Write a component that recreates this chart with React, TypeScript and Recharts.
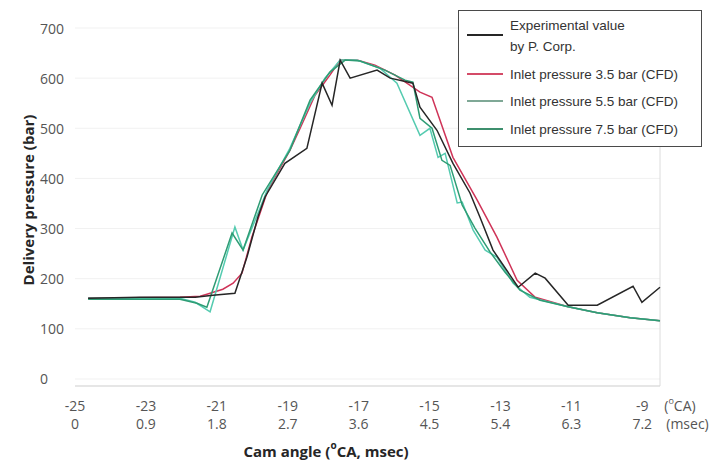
import { LineChart, Line, XAxis, YAxis, CartesianGrid, Legend, Label, ReferenceLine } from "recharts";

// cam angle ticks (°CA) and the matching time axis (msec)
const caTicks = [-25, -23, -21, -19, -17, -15, -13, -11, -9];
const msecLabels = ["0", "0.9", "1.8", "2.7", "3.6", "4.5", "5.4", "6.3", "7.2"];
const pressureTicks = [0, 100, 200, 300, 400, 500, 600, 700];

// experimental value by P. Corp.
const expAngle = [
  -24.63, -23.17, -21.61, -21.11, -20.49, -20.15, -19.84, -19.64, -19.08, -18.46, -18.03,
  -17.75, -17.52, -17.24, -16.48, -16.11, -15.47, -15.27, -14.79, -14.34, -13.86, -13.58,
  -13.21, -12.5, -12.02, -11.74, -11.09, -10.27, -9.26, -9.01, -8.5,
];
const expPressure = [
  161, 163, 163, 167, 171, 243, 323, 363, 430, 460, 590, 546, 636, 600, 616, 600, 590, 542,
  496, 430, 371, 323, 257, 183, 211, 201, 147, 147, 185, 153, 183,
];

// CFD, inlet pressure 3.5 bar
const cfd35Angle = [
  -24.63, -22.04, -21.47, -21.28, -20.83, -20.54, -20.29, -20.01, -19.78, -19.56, -18.94,
  -18.65, -18.23, -17.81, -17.52, -17.05, -16.54, -15.97, -15.27, -14.93, -14.34, -13.66,
  -13.1, -12.53, -12.02, -11.09, -10.27, -9.34, -8.5,
];
const cfd35Pressure = [
  161, 163, 165, 169, 179, 191, 211, 283, 331, 377, 456, 500, 566, 606, 636, 636, 626, 606,
  572, 562, 442, 357, 283, 197, 163, 144, 132, 122, 116,
];

// CFD, inlet pressure 5.5 bar
const cfd55Angle = [
  -24.63, -22.04, -21.61, -21.19, -20.49, -20.26, -19.78, -19.58, -18.94, -18.37, -17.95,
  -17.52, -17.05, -16.4, -15.92, -15.27, -14.99, -14.76, -14.56, -14.22, -14.08, -13.77,
  -13.43, -13.1, -12.64, -12.17, -11.09, -10.27, -9.34, -8.5,
];
const cfd55Pressure = [
  161, 161, 153, 134, 303, 257, 341, 377, 460, 550, 600, 636, 636, 620, 590, 486, 500, 442,
  450, 351, 353, 297, 257, 243, 191, 163, 144, 132, 122, 116,
];

// CFD, inlet pressure 7.5 bar
const cfd75Angle = [
  -24.63, -22.04, -21.56, -21.28, -20.57, -20.26, -19.72, -18.94, -18.37, -17.81, -17.38,
  -16.96, -16.26, -15.69, -15.47, -15.27, -14.93, -14.65, -14.42, -14.08, -13.72, -13.29,
  -12.87, -12.45, -11.88, -11.09, -10.27, -9.34, -8.5,
];
const cfd75Pressure = [
  159, 159, 151, 143, 291, 257, 367, 456, 556, 612, 636, 634, 616, 596, 592, 520, 500, 436,
  426, 347, 301, 253, 213, 177, 157, 144, 132, 122, 116,
];

const toPoints = (angle: number[], pressure: number[]) =>
  angle.map((ca, i) => ({ ca, p: pressure[i] }));

const series = [
  { id: "cfd35", label: ["Inlet pressure 3.5 bar (CFD)"], color: "#cf3458", data: toPoints(cfd35Angle, cfd35Pressure) },
  { id: "cfd55", label: ["Inlet pressure 5.5 bar (CFD)"], color: "#55cbb0", data: toPoints(cfd55Angle, cfd55Pressure) },
  { id: "cfd75", label: ["Inlet pressure 7.5 bar (CFD)"], color: "#2e9c74", data: toPoints(cfd75Angle, cfd75Pressure) },
  { id: "exp", label: ["Experimental value", "by P. Corp."], color: "#262626", data: toPoints(expAngle, expPressure) },
];

const legendOrder = ["exp", "cfd35", "cfd55", "cfd75"];
const legendSwatch: Record<string, string> = {
  exp: "#262626",
  cfd35: "#d44b68",
  cfd55: "#7fa896",
  cfd75: "#3d8f6d",
};

const tickFont = "'Open Sans', 'Noto Sans', sans-serif";

function AngleTick(props: any) {
  const { x, y, payload } = props;
  const i = caTicks.indexOf(payload.value);
  const last = i === caTicks.length - 1;
  return (
    <g fontFamily={tickFont} fontSize={14} fill="#555">
      <text x={x} y={y + 19} textAnchor="middle" dominantBaseline="central">
        {payload.value}
      </text>
      <text x={x} y={y + 37} textAnchor="middle" dominantBaseline="central">
        {msecLabels[i]}
      </text>
      {last && (
        <>
          <text x={x + 22} y={y + 19} textAnchor="start" dominantBaseline="central">
            (<tspan fontSize={9} dy={-5}>o</tspan>
            <tspan dy={5}>CA)</tspan>
          </text>
          <text x={x + 24} y={y + 37} textAnchor="start" dominantBaseline="central">
            (msec)
          </text>
        </>
      )}
    </g>
  );
}

function PressureTick(props: any) {
  const { y, payload } = props;
  return (
    <text x={32} y={y} textAnchor="start" dominantBaseline="central" fontFamily={tickFont} fontSize={14} fill="#555">
      {payload.value}
    </text>
  );
}

function LegendBox() {
  const rows = legendOrder.map((id) => series.find((s) => s.id === id)!);
  const centers = [24, 63, 90, 118];
  return (
    <div
      style={{
        position: "relative",
        width: 244,
        height: 137,
        boxSizing: "border-box",
        border: "1.5px solid #4a4a4a",
        background: "#fff",
        fontFamily: "'Liberation Sans', Arial, sans-serif",
        fontSize: 13.5,
        color: "#333",
      }}
    >
      {rows.map((s, i) => (
        <div key={s.id}>
          <div
            style={{
              position: "absolute",
              left: 8,
              top: centers[i] - 1,
              width: 36,
              height: 2,
              background: legendSwatch[s.id],
            }}
          />
          <div
            style={{
              position: "absolute",
              left: 51,
              top: s.label.length > 1 ? 4 : centers[i] - 10,
              lineHeight: "21px",
              whiteSpace: "nowrap",
            }}
          >
            {s.label.map((t) => (
              <div key={t}>{t}</div>
            ))}
          </div>
        </div>
      ))}
    </div>
  );
}

export default function App() {
  return (
    <div style={{ padding: "8px 8px 0 8px" }}>
      <style>{"body { margin: 0; }"}</style>
      <LineChart width={708} height={457} margin={{ top: 20, right: 56, bottom: 0, left: 0 }}>
        <CartesianGrid vertical={false} stroke="#f1f1f1" />
        <XAxis
          type="number"
          dataKey="ca"
          domain={[-25, -8.5]}
          ticks={caTicks}
          height={79}
          tickLine={false}
          tickSize={0}
          tickMargin={0}
          axisLine={{ stroke: "#d4d4d4" }}
          tick={<AngleTick />}
          interval={0}
        >
          <Label
            content={() => (
              <text
                x={318}
                y={443}
                textAnchor="middle"
                dominantBaseline="central"
                fontFamily={tickFont}
                fontSize={15}
                fontWeight="bold"
                fill="#262626"
              >
                Cam angle (<tspan fontSize={10} dy={-6}>o</tspan>
                <tspan dy={6}>CA, msec)</tspan>
              </text>
            )}
          />
        </XAxis>
        <YAxis
          type="number"
          dataKey="p"
          domain={[-14, 700]}
          ticks={pressureTicks}
          width={67}
          axisLine={false}
          tickLine={false}
          tick={<PressureTick />}
          interval={0}
        >
          <Label
            content={() => (
              <text
                transform="translate(20,192) rotate(-90)"
                textAnchor="middle"
                dominantBaseline="central"
                fontFamily={tickFont}
                fontSize={15}
                fontWeight="bold"
                fill="#262626"
              >
                Delivery pressure (bar)
              </text>
            )}
          />
        </YAxis>
        <ReferenceLine x={-8.5} stroke="#dcdcdc" />
        {series.map((s) => (
          <Line
            key={s.id}
            data={s.data}
            dataKey="p"
            type="linear"
            stroke={s.color}
            strokeWidth={1.5}
            dot={false}
            activeDot={false}
            isAnimationActive={false}
          />
        ))}
        <Legend
          layout="vertical"
          align="center"
          verticalAlign="middle"
          wrapperStyle={{ left: 450, top: 2, width: 244, height: 137 }}
          content={<LegendBox />}
        />
      </LineChart>
    </div>
  );
}
